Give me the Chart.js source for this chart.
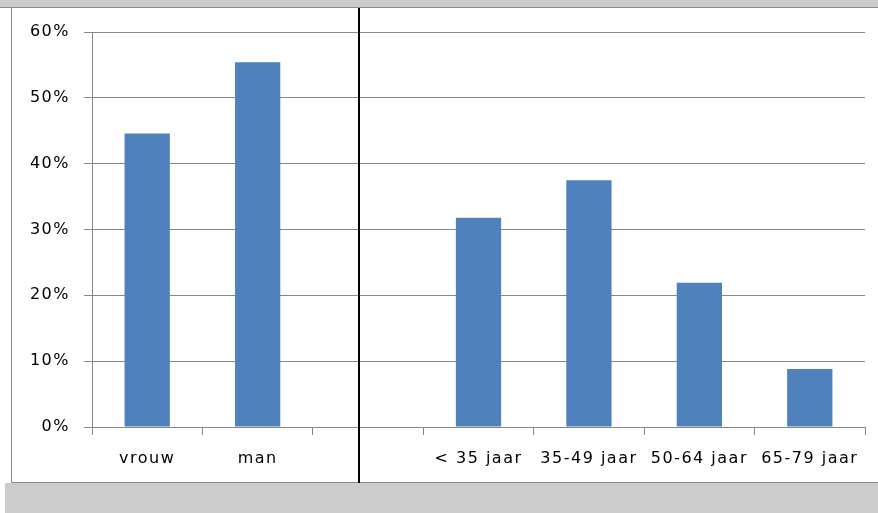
<!DOCTYPE html>
<html>
<head>
<meta charset="utf-8">
<script src="https://cdn.jsdelivr.net/npm/chart.js@4/dist/chart.umd.min.js"></script>
<style>
  html, body { margin: 0; padding: 0; background: #ffffff; }
  #frame { position: relative; width: 878px; height: 513px; overflow: hidden; background: #ffffff; }
  #topBand { position: absolute; left: 0; top: 0; width: 878px; height: 7px; background: #cccccc; border-bottom: 1px solid #8c8c8c; }
  #panel { position: absolute; left: 11px; top: 8px; width: 867px; height: 474px; border-left: 1px solid #8c8c8c; border-bottom: 1px solid #8c8c8c; background: #ffffff; }
  #bottomBand { position: absolute; left: 5px; top: 483px; width: 873px; height: 30px; background: #cccccc; }
  #divider { position: absolute; left: 358px; top: 8px; width: 2px; height: 475px; background: #000000; }
  #wrap { position: absolute; left: 12px; top: 8px; width: 866px; height: 474px; }
</style>
</head>
<body>
<div id="frame">
  <div id="topBand"></div>
  <div id="panel"></div>
  <div id="bottomBand"></div>
  <div id="wrap"><canvas id="chart"></canvas></div>
  <div id="divider"></div>
</div>
<script>
// Share of respondents by gender (left group) and by age group (right group), in %
const categories = ['vrouw', 'man', '', '< 35 jaar', '35-49 jaar', '50-64 jaar', '65-79 jaar'];
const shares = [44.6, 55.4, null, 31.8, 37.5, 21.9, 8.8];
const yTicks = [0, 10, 20, 30, 40, 50, 60];

const gridGrey = '#868686';
const labelFont = { family: 'DejaVu Sans', size: 16 };

// Canvas text in this chart uses a slightly widened letter spacing
const spacingPlugin = {
  id: 'spacing',
  beforeInit(chart) { chart.ctx.letterSpacing = '1.5px'; },
  beforeDraw(chart) { chart.ctx.letterSpacing = '1.5px'; }
};

new Chart(document.getElementById('chart'), {
  type: 'bar',
  data: {
    labels: categories,
    datasets: [{
      data: shares,
      backgroundColor: '#4F81BD',
      borderWidth: 0,
      barPercentage: 0.41,
      categoryPercentage: 1.0
    }]
  },
  plugins: [spacingPlugin],
  options: {
    responsive: true,
    maintainAspectRatio: false,
    animation: false,
    layout: { padding: { top: 24, right: 13, bottom: 0, left: 0 } },
    plugins: {
      legend: { display: false },
      tooltip: { enabled: false },
      title: { display: false }
    },
    scales: {
      x: {
        offset: true,
        grid: {
          offset: true,
          drawOnChartArea: false,
          drawTicks: true,
          tickLength: 8,
          color: gridGrey,
          lineWidth: 1
        },
        border: { display: true, color: gridGrey, width: 1 },
        ticks: {
          color: '#000000',
          font: labelFont,
          padding: 14,
          maxRotation: 0,
          autoSkip: false
        },
        afterFit(scale) { scale.height = 55; }
      },
      y: {
        min: 0,
        max: 60,
        afterBuildTicks(scale) { scale.ticks = yTicks.map(v => ({ value: v })); },
        grid: {
          drawTicks: true,
          tickLength: 8,
          color: gridGrey,
          lineWidth: 1
        },
        border: { display: true, color: gridGrey, width: 1 },
        ticks: {
          color: '#000000',
          font: labelFont,
          padding: 14,
          callback: v => v + '%'
        },
        afterFit(scale) { scale.width = 80; }
      }
    }
  }
});
</script>
</body>
</html>
